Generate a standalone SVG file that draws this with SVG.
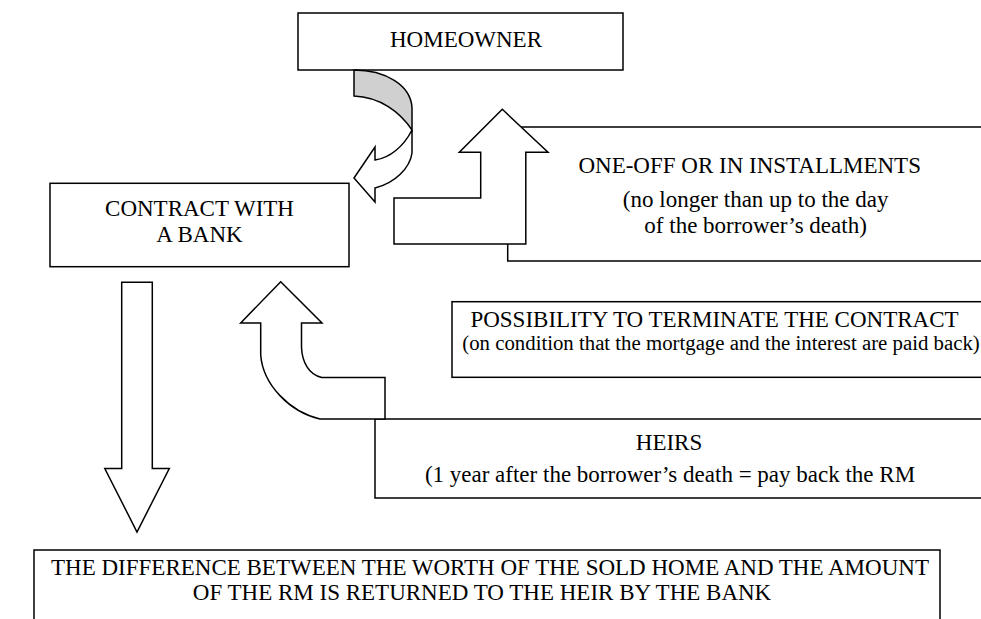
<svg xmlns="http://www.w3.org/2000/svg" width="981" height="619" viewBox="0 0 981 619" font-family="'Liberation Serif', 'Times New Roman', 'DejaVu Serif', serif">
<style>
  .box { fill: #ffffff; stroke: #000000; stroke-width: 1.5; }
  .arrow { fill: #ffffff; stroke: #000000; stroke-width: 1.5; stroke-linejoin: miter; }
  .band { fill: #d0d0d0; stroke: #000000; stroke-width: 1.5; }
  text { font-family: "Liberation Serif", "Times New Roman", "DejaVu Serif", serif; font-size: 23px; fill: #000000; text-anchor: middle; }
  .small { font-size: 20.8px; }
</style>
<rect x="0" y="0" width="981" height="619" fill="#ffffff"/>

<g id="homeowner">
  <rect class="box" x="298" y="13" width="325" height="57"/>
  <text x="466" y="47">HOMEOWNER</text>
</g>

<g id="contract">
  <rect class="box" x="50" y="183.3" width="299" height="83.4"/>
  <text x="199.5" y="215.7">CONTRACT WITH</text>
  <text x="199.5" y="242.3">A BANK</text>
</g>

<g id="installments">
  <rect class="box" x="507.7" y="127" width="500" height="134"/>
  <text x="749.7" y="173.3">ONE-OFF OR IN INSTALLMENTS</text>
  <text x="755.7" y="206.7">(no longer than up to the day</text>
  <text x="755.6" y="233">of the borrower’s death)</text>
</g>

<g id="terminate">
  <rect class="box" x="452" y="301.7" width="560" height="75.6"/>
  <text x="714.5" y="327.3">POSSIBILITY TO TERMINATE THE CONTRACT</text>
  <text class="small" x="721" y="350">(on condition that the mortgage and the interest are paid back)</text>
</g>

<g id="heirs">
  <rect class="box" x="375" y="419" width="620" height="79"/>
  <text x="669" y="450">HEIRS</text>
  <text x="670" y="482.3">(1 year after the borrower’s death = pay back the RM</text>
</g>

<g id="difference">
  <rect class="box" x="34" y="550" width="906" height="80"/>
  <text x="490" y="575">THE DIFFERENCE BETWEEN THE WORTH OF THE SOLD HOME AND THE AMOUNT</text>
  <text x="482" y="600">OF THE RM IS RETURNED TO THE HEIR BY THE BANK</text>
</g>

<g id="connectors">
  <path class="band" d="M354,70 C385,70 411,85 412,108 L412,130 C400,112 380,97 354,96 Z"/>
  <path class="arrow" d="M412,130 L412,153 C410,168 395,183 375,188 L375,202 L354,178 L375,147 L375,160 C390,158 404,146 412,130 Z"/>
  <path class="arrow" d="M502.3,109.3 L548,152.3 L525.8,152.3 L525.8,244 L394,244 L394,198 L480.7,198 L480.7,152.3 L459.3,152.3 Z"/>
  <path class="arrow" d="M280.7,281.7 L322,323 L301.5,323 L301.5,347 C302,362 309,375 321.7,377.5 L385,377.5 L385,419 L320,419 C290,412 263,385 260.7,355 L260.7,323 L240.7,323 Z"/>
  <path class="arrow" d="M121.7,282.3 L152.3,282.3 L152.3,468.5 L169.3,468.5 L137,532 L104.8,468.5 L121.7,468.5 Z"/>
</g>
</svg>
